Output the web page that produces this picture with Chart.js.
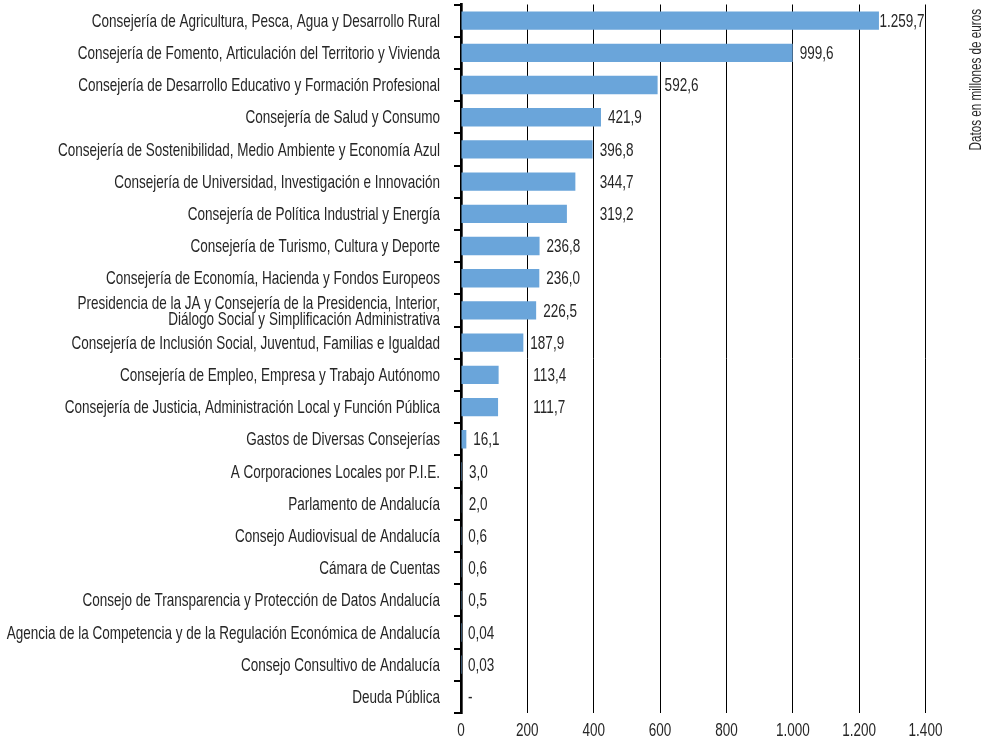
<!DOCTYPE html>
<html>
<head>
<meta charset="utf-8">
<script src="https://cdn.jsdelivr.net/npm/chart.js@4.4.1/dist/chart.umd.min.js"></script>
<style>
  body { margin: 0; background: #fff; }
  #caja { width: 991px; height: 743px; position: relative; }
</style>
</head>
<body>
<div id="caja"><canvas id="grafico"></canvas></div>
<script>
// categorías (multi-línea donde hace falta)
const categorias = [
  "Consejería de Agricultura, Pesca, Agua y Desarrollo Rural",
  "Consejería de Fomento, Articulación del Territorio y Vivienda",
  "Consejería de Desarrollo Educativo y Formación Profesional",
  "Consejería de Salud y Consumo",
  "Consejería de Sostenibilidad, Medio Ambiente y Economía Azul",
  "Consejería de Universidad, Investigación e Innovación",
  "Consejería de Política Industrial y Energía",
  "Consejería de Turismo, Cultura y Deporte",
  "Consejería de Economía, Hacienda y Fondos Europeos",
  ["Presidencia de la JA y Consejería de la Presidencia, Interior,", "Diálogo Social y Simplificación Administrativa"],
  "Consejería de Inclusión Social, Juventud, Familias e Igualdad",
  "Consejería de Empleo, Empresa y Trabajo Autónomo",
  "Consejería de Justicia, Administración Local y Función Pública",
  "Gastos de Diversas Consejerías",
  "A Corporaciones Locales por P.I.E.",
  "Parlamento de Andalucía",
  "Consejo Audiovisual de Andalucía",
  "Cámara de Cuentas",
  "Consejo de Transparencia y Protección de Datos Andalucía",
  "Agencia de la Competencia y de la Regulación Económica de Andalucía",
  "Consejo Consultivo de Andalucía",
  "Deuda Pública"
];

// millones de euros
const valores = [1259.7, 999.6, 592.6, 421.9, 396.8, 344.7, 319.2, 236.8, 236.0, 226.5, 187.9,
  113.4, 111.7, 16.1, 3.0, 2.0, 0.6, 0.6, 0.5, 0.04, 0.03, 0];

const ejeX = { min: 0, max: 1400, paso: 200 };
const tituloDerecha = "Datos en millones de euros";

// la fuente original es una helvetica estrecha: se simula comprimiendo en horizontal
const FUENTE = "'Liberation Sans', Arial, sans-serif";
const COMPRESION = 0.73;
const COLOR_TEXTO = "#262626";

// formato español con punto de miles
function formatear(v, dec) {
  const partes = v.toFixed(dec).split(".");
  const ent = partes[0].replace(/\B(?=(\d{3})+(?!\d))/g, ".");
  return partes[1] ? ent + "," + partes[1] : ent;
}

function textoValor(v) {
  if (v === 0) return "-";
  return formatear(v, v < 0.1 ? 2 : 1);
}

function textoEstrecho(ctx, txt, x, y, alinear) {
  ctx.save();
  ctx.translate(x, y);
  ctx.scale(COMPRESION, 1);
  ctx.textAlign = alinear;
  ctx.fillText(txt, 0, 0);
  ctx.restore();
}

const textos = {
  id: "textos",
  afterDraw(chart) {
    const ctx = chart.ctx;
    const sx = chart.scales.x, sy = chart.scales.y;
    const area = chart.chartArea;
    ctx.save();
    ctx.fillStyle = COLOR_TEXTO;
    ctx.textBaseline = "middle";
    ctx.font = "18.5px " + FUENTE;

    // etiquetas de categoría
    categorias.forEach((cat, i) => {
      const y = sy.getPixelForValue(i);
      const xr = area.left - 21;
      if (Array.isArray(cat)) {
        textoEstrecho(ctx, cat[0], xr, y - 7, "right");
        textoEstrecho(ctx, cat[1], xr, y + 9, "right");
      } else {
        textoEstrecho(ctx, cat, xr, y + 1, "right");
      }
    });

    // valores junto a las barras; si pisan una línea de rejilla se apartan (como hace Excel)
    const lineas = sx.ticks.map((t) => t.value).filter((v) => v > 0);
    chart.getDatasetMeta(0).data.forEach((barra, i) => {
      const txt = textoValor(valores[i]);
      const w = ctx.measureText(txt).width * COMPRESION;
      let x = barra.x + 7;
      lineas.forEach((v) => {
        const gx = sx.getPixelForValue(v);
        if (gx > x - 2 && gx < x + w + 2) {
          x = v === ejeX.max ? gx - w - 1 : gx + 6;
        }
      });
      textoEstrecho(ctx, txt, x, barra.y + 1, "left");
    });

    // marcas del eje x
    sx.ticks.forEach((t) => {
      textoEstrecho(ctx, formatear(t.value, 0), sx.getPixelForValue(t.value), area.bottom + 18, "center");
    });

    // título lateral
    ctx.font = "16px " + FUENTE;
    ctx.translate(977, 9);
    ctx.rotate(-Math.PI / 2);
    textoEstrecho(ctx, tituloDerecha, 0, 0, "right");
    ctx.restore();
  }
};

new Chart(document.getElementById("grafico"), {
  type: "bar",
  data: {
    labels: categorias,
    datasets: [{
      data: valores,
      backgroundColor: "#6aa5da",
      borderWidth: 0,
      categoryPercentage: 1,
      barPercentage: 0.57
    }]
  },
  plugins: [textos],
  options: {
    indexAxis: "y",
    responsive: true,
    maintainAspectRatio: false,
    animation: false,
    layout: { padding: { top: 4.5, right: 65.5, bottom: 0, left: 0 } },
    plugins: {
      legend: { display: false },
      tooltip: { enabled: false }
    },
    scales: {
      x: {
        min: ejeX.min,
        max: ejeX.max,
        ticks: { stepSize: ejeX.paso, display: false },
        grid: { color: "#000", lineWidth: 1, drawTicks: false },
        border: { display: false },
        afterFit: (s) => { s.height = 30; s.paddingLeft = 0; s.paddingRight = 0; }
      },
      y: {
        ticks: { display: false, autoSkip: false },
        grid: {
          drawOnChartArea: false,
          drawTicks: true,
          tickLength: 7,
          color: "#000",
          lineWidth: 2
        },
        border: { display: true, color: "#000", width: 2.7 },
        afterFit: (s) => { s.width = 461; s.paddingTop = 0; s.paddingBottom = 0; }
      }
    }
  }
});
</script>
</body>
</html>
